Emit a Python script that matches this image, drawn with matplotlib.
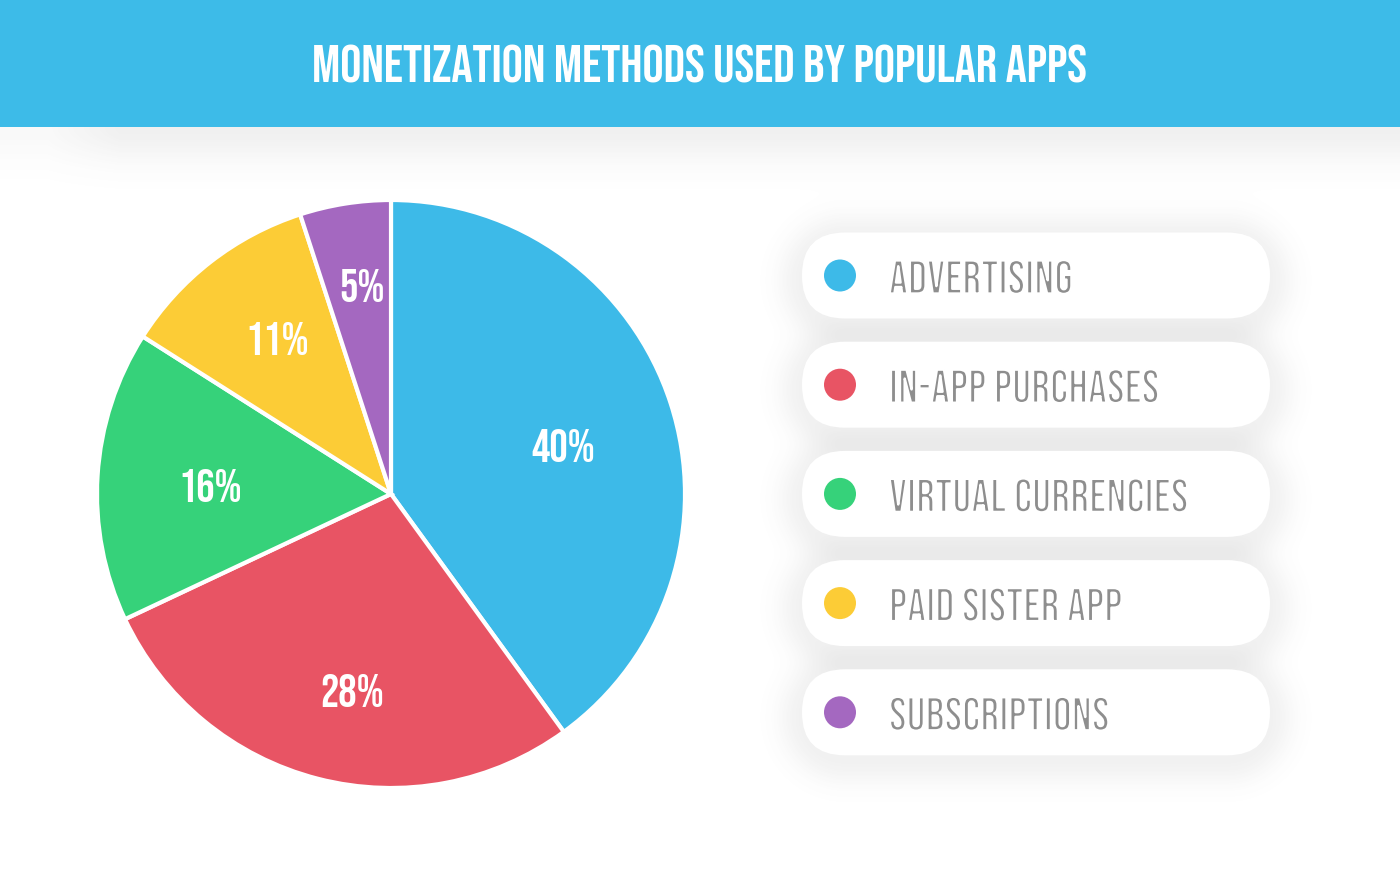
import matplotlib
matplotlib.use("Agg")
import matplotlib.pyplot as plt
import matplotlib.patheffects as pe
from matplotlib.patches import FancyBboxPatch, Rectangle, Circle
import numpy as np

# datos
titulo = "MONETIZATION METHODS USED BY POPULAR APPS"
categorias = ["ADVERTISING", "IN-APP PURCHASES", "VIRTUAL CURRENCIES",
              "PAID SISTER APP", "SUBSCRIPTIONS"]
porcentajes = [40, 28, 16, 11, 5]
colores = ["#3DBAE8", "#E85464", "#36D27A", "#FCCC36", "#A468C0"]

# posicion de las etiquetas dentro de cada porcion (radio relativo y desfase en grados)
radio_etiqueta = [0.61, 0.68, 0.615, 0.655, 0.715]
desfase_etiqueta = [-2.3, 3.2, 0.8, -1.5, -1.1]

W, H = 1400, 890
fuente = ["Bebas Neue", "DejaVu Sans"]

fig = plt.figure(figsize=(W / 100, H / 100), dpi=100)
fig.patch.set_facecolor("white")

# fondo en coordenadas de pixel
bg = fig.add_axes([0, 0, 1, 1])
bg.set_xlim(0, W)
bg.set_ylim(H, 0)
bg.axis("off")

# sombras (cabecera + pastillas de la leyenda)
yy, xx = np.mgrid[0:H, 0:W] + 0.5
alpha = np.zeros((H, W))
d_head = yy - 127
sombra_head = np.where(d_head > 0, 0.09 * np.exp(-(d_head / 35.0) ** 2), 0)
alpha += sombra_head * np.clip(xx / 120.0, 0.4, 1)

px1, px2 = 802, 1270
radio_pill = 43
centros = [275.5 + 109.2 * i for i in range(len(categorias))]
for cy in centros:
    sx = np.clip(xx, px1 + radio_pill, px2 - radio_pill)
    d = np.hypot(xx - sx, yy - (cy + 5)) - radio_pill
    alpha += np.where(d > -10, 0.08 * np.exp(-(np.clip(d, 0, None) / 24.0) ** 2), 0)
alpha = np.clip(alpha, 0, 1)
img = np.zeros((H, W, 4))
img[..., :3] = 0.35
img[..., 3] = alpha
bg.imshow(img, extent=(0, W, H, 0), zorder=0, interpolation="bilinear")

# cabecera
bg.add_patch(Rectangle((0, 0), W, 127, color="#3DBBE8", zorder=2, lw=0))
bg.text(W / 2 - 1, 64, titulo, color="white", fontsize=38,
        family=fuente, ha="center", va="center", zorder=3)

# leyenda (texto fino: se adelgaza la Bebas con un trazo blanco encima)
fino = [pe.Normal(), pe.Stroke(linewidth=1.7, foreground="white")]
for cy, cat, col in zip(centros, categorias, colores):
    bg.add_patch(FancyBboxPatch((px1, cy - radio_pill), px2 - px1, 2 * radio_pill,
                                boxstyle=f"round,pad=0,rounding_size={radio_pill}",
                                fc="white", ec="none", zorder=2))
    bg.add_patch(Circle((840, cy), 16, color=col, zorder=3, lw=0))
    bg.text(889, cy + 1, cat, color="#8E8E8E", fontsize=34, family=fuente,
            ha="left", va="center", zorder=3, path_effects=fino)

# pastel
cx, cy0, r = 391, 494, 294 * 1.01
pie_ax = fig.add_axes([(cx - r) / W, (H - cy0 - r) / H, 2 * r / W, 2 * r / H])
wedges, _ = pie_ax.pie(porcentajes, colors=colores, startangle=90, counterclock=False,
                       wedgeprops=dict(edgecolor="white", linewidth=3))
pie_ax.set_aspect("equal")
pie_ax.set_xlim(-1.01, 1.01)
pie_ax.set_ylim(-1.01, 1.01)
for w, p, rl, da in zip(wedges, porcentajes, radio_etiqueta, desfase_etiqueta):
    ang = np.deg2rad((w.theta1 + w.theta2) / 2 + da)
    pie_ax.text(rl * np.cos(ang), rl * np.sin(ang), f"{p}%", color="white",
                fontsize=33, family=fuente, ha="center", va="center_baseline")

fig.savefig("out.png", dpi=100, facecolor="white")
